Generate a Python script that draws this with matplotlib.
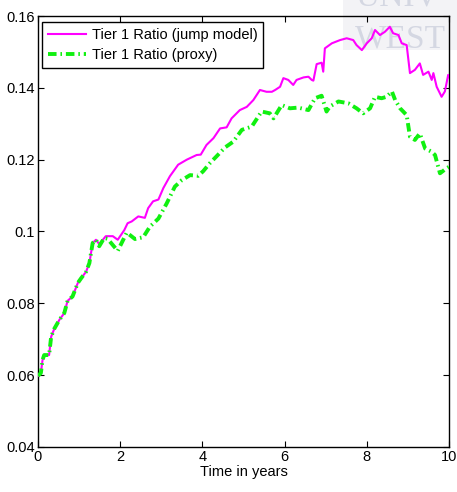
import matplotlib
matplotlib.use('Agg')
import matplotlib.pyplot as plt
from matplotlib.patches import Rectangle

plt.rcParams['font.family'] = ['Liberation Sans Narrow', 'Liberation Sans', 'DejaVu Sans']

# Tier 1 ratio, jump model (magenta)
t_jump = [0.00, 0.07, 0.11, 0.15, 0.27, 0.32, 0.40, 0.52, 0.64, 0.72, 0.84, 0.97,
          1.05, 1.17, 1.25, 1.33, 1.41, 1.49, 1.65, 1.82, 1.94, 2.10, 2.18, 2.28,
          2.44, 2.60, 2.68, 2.80, 2.93, 3.05, 3.21, 3.41, 3.62, 3.86, 3.96, 4.10,
          4.27, 4.43, 4.59, 4.71, 4.91, 5.08, 5.24, 5.40, 5.56, 5.69, 5.77, 5.89,
          5.97, 6.09, 6.21, 6.29, 6.46, 6.58, 6.66, 6.70, 6.78, 6.90, 6.94, 6.98,
          7.15, 7.35, 7.51, 7.67, 7.75, 7.88, 8.00, 8.12, 8.20, 8.32, 8.44, 8.56,
          8.64, 8.77, 8.85, 8.97, 9.05, 9.17, 9.29, 9.37, 9.50, 9.58, 9.62, 9.70,
          9.82, 9.90, 9.98, 10.00]
r_jump = [0.0598, 0.0606, 0.0642, 0.0656, 0.0656, 0.0707, 0.0730, 0.0754, 0.0773, 0.0807, 0.0819, 0.0857,
          0.0870, 0.0888, 0.0912, 0.0968, 0.0977, 0.0965, 0.0987, 0.0987, 0.0977, 0.1004, 0.1023, 0.1028,
          0.1042, 0.1038, 0.1065, 0.1084, 0.1089, 0.1121, 0.1154, 0.1186, 0.1200, 0.1213, 0.1214, 0.1241,
          0.1260, 0.1287, 0.1290, 0.1315, 0.1338, 0.1347, 0.1366, 0.1394, 0.1389, 0.1389, 0.1394, 0.1403,
          0.1427, 0.1422, 0.1408, 0.1422, 0.1429, 0.1431, 0.1422, 0.1420, 0.1466, 0.1470, 0.1445, 0.1510,
          0.1524, 0.1533, 0.1538, 0.1533, 0.1519, 0.1505, 0.1524, 0.1538, 0.1561, 0.1547, 0.1556, 0.1570,
          0.1552, 0.1547, 0.1524, 0.1519, 0.1441, 0.1450, 0.1468, 0.1436, 0.1445, 0.1422, 0.1441, 0.1403,
          0.1375, 0.1390, 0.1436, 0.1430]

# Tier 1 ratio, proxy (green)
t_proxy = [0.00, 0.07, 0.11, 0.15, 0.27, 0.32, 0.40, 0.52, 0.64, 0.72, 0.84, 0.97,
           1.05, 1.17, 1.25, 1.33, 1.41, 1.49, 1.61, 1.69, 1.94, 2.16, 2.36, 2.56,
           2.72, 2.93, 3.13, 3.33, 3.50, 3.70, 3.90, 4.02, 4.18, 4.35, 4.55, 4.75,
           4.96, 5.20, 5.44, 5.64, 5.73, 5.93, 6.13, 6.33, 6.58, 6.74, 6.90, 7.02,
           7.10, 7.31, 7.55, 7.75, 7.91, 8.08, 8.20, 8.36, 8.48, 8.61, 8.69, 8.81,
           8.97, 9.05, 9.17, 9.29, 9.42, 9.58, 9.66, 9.78, 9.94, 10.00]
r_proxy = [0.0598, 0.0606, 0.0642, 0.0656, 0.0656, 0.0707, 0.0730, 0.0754, 0.0773, 0.0807, 0.0819, 0.0857,
           0.0870, 0.0888, 0.0912, 0.0968, 0.0977, 0.0959, 0.0982, 0.0980, 0.0946, 0.0997, 0.0979, 0.0984,
           0.1013, 0.1036, 0.1078, 0.1125, 0.1143, 0.1157, 0.1155, 0.1168, 0.1190, 0.1210, 0.1234, 0.1250,
           0.1283, 0.1292, 0.1334, 0.1329, 0.1315, 0.1352, 0.1343, 0.1345, 0.1338, 0.1371, 0.1378, 0.1334,
           0.1348, 0.1362, 0.1357, 0.1343, 0.1329, 0.1343, 0.1375, 0.1371, 0.1375, 0.1390, 0.1366, 0.1343,
           0.1324, 0.1264, 0.1255, 0.1273, 0.1231, 0.1222, 0.1213, 0.1162, 0.1176, 0.1180]

x_ticks = [0, 2, 4, 6, 8, 10]
y_ticks = [0.04, 0.06, 0.08, 0.10, 0.12, 0.14, 0.16]
y_labels = ['0.04', '0.06', '0.08', '0.1', '0.12', '0.14', '0.16']

fig = plt.figure(figsize=(4.57, 4.92), dpi=100)
ax = fig.add_axes([38 / 457, 1 - 447 / 492, 411 / 457, 431 / 492])

ax.plot(t_jump, r_jump, color='#ff00ff', linewidth=1.5, label='Tier 1 Ratio (jump model)', zorder=3)
ax.plot(t_proxy, r_proxy, color='#10f010', linewidth=2.8,
        linestyle=(0, (2.2, 1.0, 0.4, 1.0)), label='Tier 1 Ratio (proxy)', zorder=4)

ax.set_xlim(0, 10)
ax.set_ylim(0.04, 0.16)
ax.set_xticks(x_ticks)
ax.set_xticklabels([str(v) for v in x_ticks])
ax.set_yticks(y_ticks)
ax.set_yticklabels(y_labels)
ax.tick_params(direction='in', length=4, width=0.8, top=True, right=True,
               labelsize=10.5, pad=2, colors='black')
for s in ax.spines.values():
    s.set_linewidth(1.0)
ax.set_xlabel('Time in years', fontsize=10.5, labelpad=1)

leg = ax.legend(loc='upper left', bbox_to_anchor=(0.01, 0.986), borderaxespad=0,
                fontsize=10.5, fancybox=False, framealpha=1, edgecolor='black',
                handlelength=2.6, handletextpad=0.4, borderpad=0.4, labelspacing=0.45)
leg.get_frame().set_linewidth(1.0)

# faint watermark in the top right corner
ax.add_patch(Rectangle((343 / 457, 1 - 50 / 492), 114 / 457, 50 / 492, transform=fig.transFigure,
                       facecolor='#f3f3f6', edgecolor='none', clip_on=False, zorder=0.5))
ax.text(355 / 457, 1 - 47 / 492, 'WEST', transform=fig.transFigure, fontsize=24,
        family='Liberation Serif', color='#d4d7e2', clip_on=False, zorder=1)
ax.text(355 / 457, 1 - 5 / 492, 'UNIV', transform=fig.transFigure, fontsize=24,
        family='Liberation Serif', color='#d4d7e2', clip_on=False, zorder=1)

fig.savefig('out.png', dpi=100)
